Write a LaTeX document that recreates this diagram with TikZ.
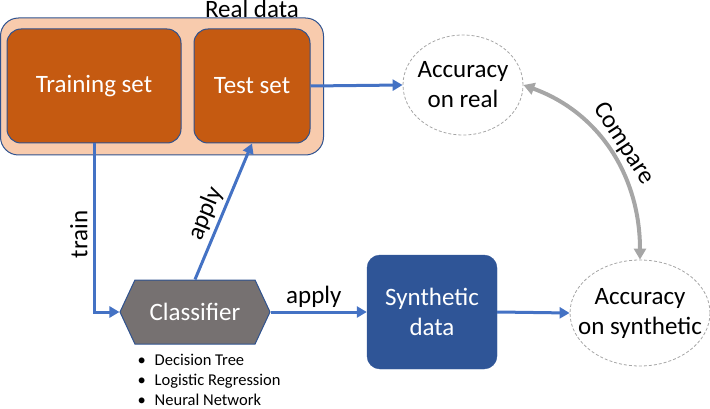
\documentclass[tikz,border=0pt]{standalone}
\usepackage{fontspec}
\setmainfont{Carlito}
\usepackage{tikz}
\usetikzlibrary{shapes.geometric,shapes.symbols,arrows.meta}
\definecolor{boxorange}{HTML}{C55A11}
\definecolor{boxpeach}{HTML}{F8CBAD}
\definecolor{edgeblue}{HTML}{2F528F}
\definecolor{arrowblue}{HTML}{4472C4}
\definecolor{synblue}{HTML}{2F5597}
\definecolor{clsgray}{HTML}{767171}
\definecolor{cmpgray}{HTML}{A6A6A6}

\begin{document}
\begin{tikzpicture}[x=1pt,y=1pt,
  bigfont/.style={font=\fontsize{25}{30}\selectfont},
  lbl/.style={bigfont,text=black},
  setbox/.style={draw=edgeblue,line width=1pt,fill=boxorange,rounded corners=14pt,text=white,bigfont},
  accnode/.style={ellipse,draw=cmpgray,dash pattern=on 3pt off 2pt,line width=.8pt,align=center,bigfont,inner xsep=-14pt,inner ysep=0pt},
  flow/.style={arrowblue,line width=3pt,-{Triangle[length=10pt,width=11pt]}},
  cmp/.style={cmpgray,line width=4pt,{Triangle[length=11pt,width=12pt]}-{Triangle[length=11pt,width=12pt]}}]
\useasboundingbox (0,0) rectangle (710,-409);
\node[draw=edgeblue,line width=1pt,fill=boxpeach,rounded corners=18pt,minimum width=323pt,minimum height=137pt] (realdata) at (162,-86.5) {};
\node[lbl] (reallabel) at (252,-9) {Real data};
\node[setbox,minimum width=174pt,minimum height=114pt] (trainset) at (94,-86) {Training set};
\node[setbox,minimum width=116pt,minimum height=114pt] (testset) at (252,-86) {Test set};
\node[accnode,minimum width=120pt,minimum height=100pt] (accreal) at (463,-85) {Accuracy\\on real};
\node[accnode,minimum width=140pt,minimum height=106pt] (accsyn) at (640,-313) {Accuracy\\on synthetic};
\node[signal,signal to=west and east,signal pointer angle=130,minimum width=150pt,minimum height=64pt,
  fill=clsgray,draw=edgeblue,line width=1pt,text=white,bigfont] (classifier) at (195,-312) {Classifier};
\node[draw=synblue,fill=synblue,rounded corners=13pt,minimum width=130pt,minimum height=114pt,
  text=white,align=center,bigfont] (synthetic) at (432,-312) {Synthetic\\data};
\node[anchor=north west,align=left,font=\fontsize{16.5}{20}\selectfont] (models) at (134,-351)
  {\textbullet\hspace{9pt}Decision Tree\\ \textbullet\hspace{9pt}Logistic Regression\\ \textbullet\hspace{9pt}Neural Network};
\draw[flow] (testset.east) -- (accreal.west);
\draw[flow] (trainset.south) |- (classifier.west) node[pos=.27,rotate=90,anchor=south,lbl,inner sep=5pt] {train};
\draw[flow] (classifier.north) -- (testset.south) node[pos=.44,sloped,above,lbl] {apply};
\draw[flow] (classifier.east) -- (synthetic.west) node[pos=.45,above,lbl] {apply};
\draw[flow] (synthetic.east) -- (accsyn.west);
\draw[cmp] (accreal.east) to[out=-20,in=90] node[midway,sloped,above,lbl] {Compare} (accsyn.north);
\end{tikzpicture}
\end{document}
